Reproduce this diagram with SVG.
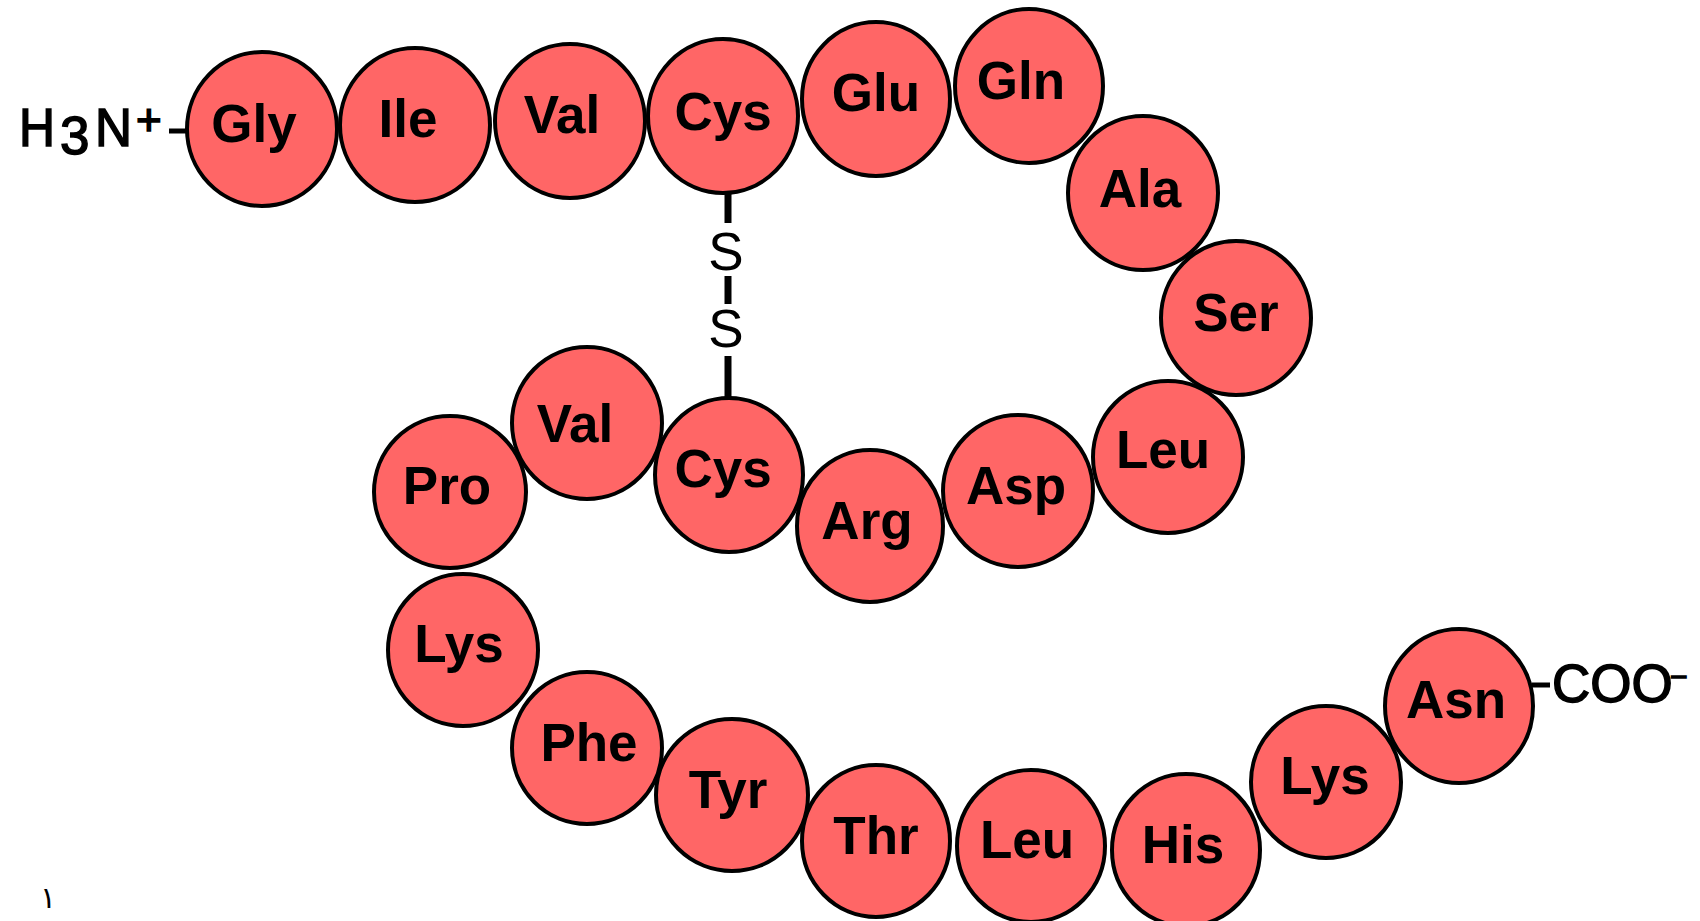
<svg xmlns="http://www.w3.org/2000/svg" width="1700" height="921" viewBox="0 0 1700 921">
<style>
.res ellipse{fill:#ff6666;stroke:#000;stroke-width:4}
.res text{font-family:"Liberation Sans",Arial,sans-serif;font-weight:bold;font-size:53px;text-anchor:middle;fill:#000}
.term{font-family:"Liberation Sans",Arial,sans-serif;font-size:53px;fill:#000}
.heavy{stroke:#000;stroke-width:1.5}
.bond{stroke:#000;stroke-width:5;fill:none}
.ss{stroke:#000;stroke-width:7;fill:none}
</style>
<rect width="1700" height="921" fill="#fff"/>
<g id="connectors">
<line class="bond" x1="169" y1="131" x2="188" y2="131"/>
<line class="bond" x1="1532" y1="685" x2="1550" y2="685"/>
<line class="ss" x1="728" y1="192" x2="728" y2="223"/>
<line class="ss" x1="728" y1="276" x2="728" y2="304"/>
<line class="ss" x1="728" y1="356" x2="728" y2="400"/>
<text class="term" x="726" y="270" text-anchor="middle">S</text>
<text class="term" x="726" y="347" text-anchor="middle">S</text>
</g>
<g id="n-terminus"><text class="term heavy"><tspan x="19" y="146" textLength="36" lengthAdjust="spacingAndGlyphs">H</tspan><tspan x="60" y="154">3</tspan><tspan x="95" y="146" textLength="37" lengthAdjust="spacingAndGlyphs">N</tspan><tspan x="136" y="135" font-size="44">+</tspan></text></g>
<g id="c-terminus"><text class="term heavy" x="1552" y="702" font-size="51">COO<tspan x="1670" y="687" font-size="30">−</tspan></text></g>
<g id="r1" class="res"><ellipse cx="262" cy="129" rx="75" ry="77"/><text x="254" y="142">Gly</text></g>
<g id="r2" class="res"><ellipse cx="415" cy="125" rx="75" ry="77"/><text x="408" y="137">Ile</text></g>
<g id="r3" class="res"><ellipse cx="570" cy="121" rx="75" ry="77"/><text x="562" y="133">Val</text></g>
<g id="r4" class="res"><ellipse cx="723" cy="116" rx="75" ry="77"/><text x="723" y="130">Cys</text></g>
<g id="r5" class="res"><ellipse cx="876" cy="99" rx="74" ry="77"/><text x="876" y="111">Glu</text></g>
<g id="r6" class="res"><ellipse cx="1029" cy="86" rx="74" ry="77"/><text x="1021" y="99">Gln</text></g>
<g id="r7" class="res"><ellipse cx="1143" cy="193" rx="75" ry="77"/><text x="1140" y="207">Ala</text></g>
<g id="r8" class="res"><ellipse cx="1236" cy="318" rx="75" ry="77"/><text x="1236" y="331">Ser</text></g>
<g id="r9" class="res"><ellipse cx="1168" cy="457" rx="75" ry="76"/><text x="1163" y="468">Leu</text></g>
<g id="r10" class="res"><ellipse cx="1018" cy="491" rx="75" ry="76"/><text x="1016" y="504">Asp</text></g>
<g id="r11" class="res"><ellipse cx="870" cy="526" rx="73" ry="76"/><text x="867" y="539">Arg</text></g>
<g id="r12" class="res"><ellipse cx="729" cy="475" rx="74" ry="77"/><text x="723" y="487">Cys</text></g>
<g id="r13" class="res"><ellipse cx="587" cy="423" rx="75" ry="76"/><text x="575" y="442">Val</text></g>
<g id="r14" class="res"><ellipse cx="450" cy="492" rx="76" ry="76"/><text x="447" y="504">Pro</text></g>
<g id="r15" class="res"><ellipse cx="463" cy="650" rx="75" ry="76"/><text x="459" y="662">Lys</text></g>
<g id="r16" class="res"><ellipse cx="587" cy="748" rx="75" ry="76"/><text x="589" y="761">Phe</text></g>
<g id="r17" class="res"><ellipse cx="732" cy="795" rx="76" ry="76"/><text x="728" y="808">Tyr</text></g>
<g id="r18" class="res"><ellipse cx="876" cy="841" rx="74" ry="76"/><text x="876" y="854">Thr</text></g>
<g id="r19" class="res"><ellipse cx="1031" cy="846" rx="74" ry="76"/><text x="1027" y="858">Leu</text></g>
<g id="r20" class="res"><ellipse cx="1186" cy="850" rx="74" ry="76"/><text x="1183" y="863">His</text></g>
<g id="r21" class="res"><ellipse cx="1326" cy="782" rx="75" ry="76"/><text x="1325" y="794">Lys</text></g>
<g id="r22" class="res"><ellipse cx="1459" cy="706" rx="74" ry="77"/><text x="1456" y="718">Asn</text></g>
<text x="40" y="908" font-family="'DejaVu Sans',sans-serif" font-size="30" fill="#000">١</text>
</svg>
